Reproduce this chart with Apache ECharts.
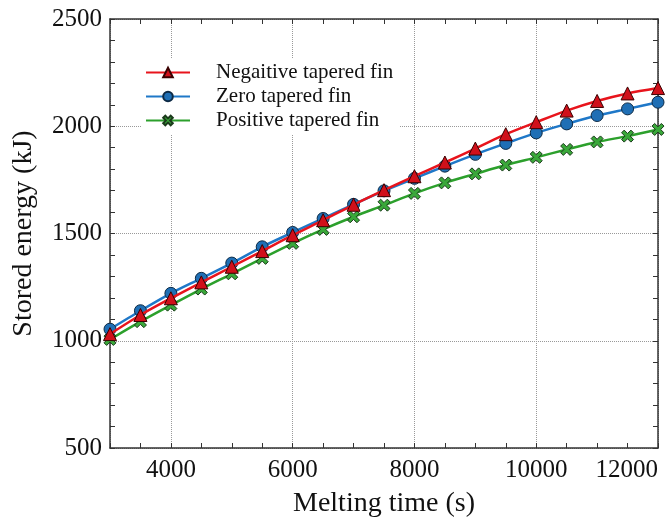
<!DOCTYPE html>
<html>
<head>
<meta charset="utf-8">
<script src="https://cdn.jsdelivr.net/npm/echarts@6/dist/echarts.min.js"></script>
<style>
html,body{margin:0;padding:0;background:#fff;}
#chart{width:669px;height:525px;}
</style>
</head>
<body>
<div id="chart"></div>
<script>
var meltingTime = [3000,3500,4000,4500,5000,5500,6000,6500,7000,7500,8000,8500,9000,9500,10000,10500,11000,11500,12000];
var negativeFin = [1031,1120,1198,1272,1345,1418,1492,1562,1634,1702,1767,1831,1896,1963,2019,2073,2118,2153,2178];
var zeroFin     = [1054,1140,1221,1291,1362,1438,1505,1570,1636,1699,1757,1814,1869,1920,1969,2011,2050,2081,2112];
var positiveFin = [1006,1089,1166,1241,1312,1384,1454,1519,1578,1632,1687,1736,1778,1819,1855,1892,1927,1954,1985];
var seriesNames = ['Negaitive tapered fin','Zero tapered fin','Positive tapered fin'];

function pairs(ys){ return meltingTime.map(function(x,i){ return [x, ys[i]]; }); }

var FONT = '"Liberation Serif", "Times New Roman", serif';
var crossPath = 'path://M0,2.2 L2.2,0 L5,2.8 L7.8,0 L10,2.2 L7.2,5 L10,7.8 L7.8,10 L5,7.2 L2.2,10 L0,7.8 L2.8,5 Z';
var axisLineStyle = {color:'#333', width:1.5};

var chart = echarts.init(document.getElementById('chart'), null, {renderer:'canvas'});
chart.setOption({
  animation:false,
  backgroundColor:'#fff',
  grid:{left:110, right:11, top:19, bottom:77, containLabel:false},
  legend:{
    data:seriesNames,
    left:141, top:58,
    orient:'vertical',
    itemWidth:44, itemHeight:12, itemGap:3,
    padding:[4,6,4,4],
    backgroundColor:'#fff',
    textStyle:{fontFamily:FONT, fontSize:21, color:'#111', lineHeight:21, padding:[0,0,0,21]}
  },
  xAxis:[
    {type:'value', position:'bottom', min:3000, max:12000, interval:500,
     name:'Melting time (s)', nameLocation:'middle', nameGap:42,
     nameTextStyle:{fontFamily:FONT, fontSize:28, color:'#111'},
     axisLine:{show:true, lineStyle:axisLineStyle},
     axisTick:{show:true, inside:true, length:5, lineStyle:{color:'#333'}},
     axisLabel:{fontFamily:FONT, fontSize:25, color:'#111', margin:10, alignMaxLabel:'right',
       formatter:function(v){ return (v % 2000 === 0) ? String(v) : ''; }},
     splitLine:{show:false}},
    {type:'value', position:'bottom', min:3000, max:12000, splitNumber:4,
     axisLine:{show:false}, axisTick:{show:false}, axisLabel:{show:false},
     splitLine:{show:true, lineStyle:{color:'#999', type:'dotted', width:1}}},
    {type:'value', position:'top', min:3000, max:12000, interval:500,
     axisLine:{show:true, lineStyle:axisLineStyle},
     axisTick:{show:true, inside:true, length:5, lineStyle:{color:'#333'}},
     axisLabel:{show:false}, splitLine:{show:false}}
  ],
  yAxis:[
    {type:'value', position:'left', min:500, max:2500, interval:500,
     name:'Stored energy (kJ)', nameLocation:'middle', nameGap:72, nameRotate:90,
     nameTextStyle:{fontFamily:FONT, fontSize:28, color:'#111'},
     axisLine:{show:true, lineStyle:axisLineStyle},
     axisTick:{show:true, inside:true, length:5, lineStyle:{color:'#333'}},
     minorTick:{show:true, splitNumber:5, length:5, lineStyle:{color:'#333'}},
     axisLabel:{fontFamily:FONT, fontSize:25, color:'#111', margin:8,
       formatter:function(v){ return String(v); }},
     splitLine:{show:true, lineStyle:{color:'#999', type:'dotted', width:1}}},
    {type:'value', position:'right', min:500, max:2500, interval:100,
     axisLine:{show:true, lineStyle:axisLineStyle},
     axisTick:{show:true, inside:true, length:5, lineStyle:{color:'#333'}},
     axisLabel:{show:false}, splitLine:{show:false}}
  ],
  series:[
    {name:seriesNames[2], type:'line', data:pairs(positiveFin), smooth:0.3, z:2,
     symbol:crossPath, symbolSize:12,
     lineStyle:{color:'#2ca02c', width:2.5},
     itemStyle:{color:'#3aa83a', borderColor:'#1b3b1b', borderWidth:1}},
    {name:seriesNames[1], type:'line', data:pairs(zeroFin), smooth:0.3, z:3,
     symbol:'circle', symbolSize:12,
     lineStyle:{color:'#1f78c8', width:2.5},
     itemStyle:{color:'#1f6fb5', borderColor:'#0d2a45', borderWidth:1}},
    {name:seriesNames[0], type:'line', data:pairs(negativeFin), smooth:0.3, z:4,
     symbol:'triangle', symbolSize:13,
     lineStyle:{color:'#e8141c', width:2.5},
     itemStyle:{color:'#d0101a', borderColor:'#3a0000', borderWidth:1}}
  ]
});
</script>
</body>
</html>
